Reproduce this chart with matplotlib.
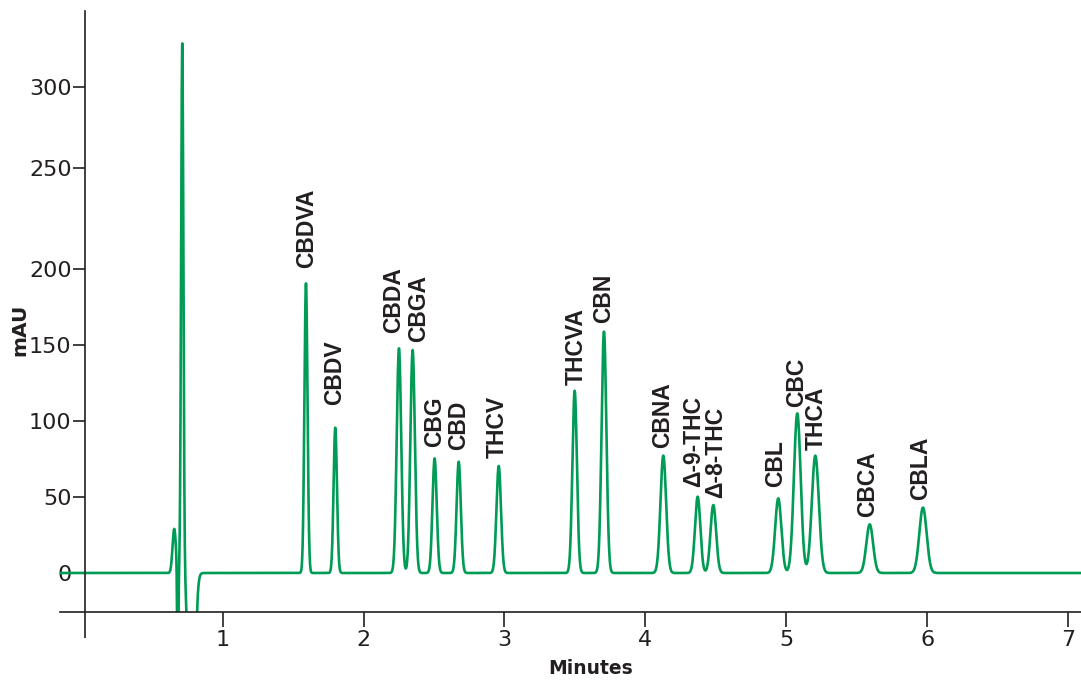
import numpy as np
import matplotlib
matplotlib.use("Agg")
import matplotlib.pyplot as plt
import matplotlib.transforms as mtransforms

# ---------------- data ----------------
compounds = ["CBDVA", "CBDV", "CBDA", "CBGA", "CBG", "CBD", "THCV", "THCVA", "CBN",
             "CBNA", "Δ-9-THC", "Δ-8-THC", "CBL", "CBC", "THCA", "CBCA", "CBLA"]
retention_min = [1.591, 1.799, 2.251, 2.348, 2.504, 2.675, 2.959, 3.498, 3.706,
                 4.127, 4.371, 4.482, 4.943, 5.078, 5.206, 5.592, 5.970]
height_mau = [190.6, 95.6, 147.8, 146.7, 75.4, 73.2, 70.4, 119.9, 158.8,
              77.2, 50.2, 44.7, 49.1, 105.0, 77.2, 32.0, 43.0]
sigma_min = [0.011, 0.012, 0.016, 0.016, 0.015, 0.015, 0.016, 0.016, 0.017,
             0.020, 0.019, 0.020, 0.022, 0.024, 0.025, 0.024, 0.026]

# solvent-front disturbance (injection peak and negative dips)
front_time = [0.656, 0.681, 0.713, 0.780, 0.812]
front_height = [29.0, -80.0, 349.0, -150.0, -8.0]
front_sigma = [0.012, 0.004, 0.008, 0.020, 0.004]

ytick_labels = ["0", "50", "100", "150", "200", "250", "300"]
xtick_labels = ["1", "2", "3", "4", "5", "6", "7"]

# ---------------- layout ----------------
ytick_pos = [0, 50, 100, 150, 200, 266.2, 319.9]
xtick_pos = [1, 2, 3, 4, 5, 6, 7]
label_t = [1.598, 1.797, 2.211, 2.388, 2.507, 2.672, 2.950, 3.512, 3.701,
           4.121, 4.343, 4.500, 4.925, 5.075, 5.212, 5.576, 5.955]
label_y = [200.7, 110.5, 157.7, 152.2, 83.1, 80.9, 75.4, 123.7, 164.3,
           82.0, 56.8, 49.1, 56.8, 109.4, 80.9, 37.0, 48.0]

GREEN = "#009B55"
INK = "#231F20"

t = np.linspace(-0.16, 7.1, 8000)
signal = np.zeros_like(t)
for tr, h, s in zip(retention_min + front_time, height_mau + front_height,
                    sigma_min + front_sigma):
    signal += h * np.exp(-0.5 * ((t - tr) / s) ** 2)

fig = plt.figure(figsize=(10.81, 6.81), dpi=100)
ax = fig.add_axes([60 / 1081, 69 / 681, 1021 / 1081, (612 - 10.9) / 681])
ax.set_xlim(-0.1547, 7.0916)
ax.set_ylim(-25.66, 369.8)

ax.plot(t, signal, color=GREEN, lw=1.9, solid_joinstyle="round")

for name, tx, ty in zip(compounds, label_t, label_y):
    ax.text(tx, ty, name, rotation=90, ha="center", va="bottom",
            fontsize=16.5, fontweight="bold", color=INK,
            family=["Liberation Sans", "DejaVu Sans"])

# axes styling
for side in ("top", "right"):
    ax.spines[side].set_visible(False)
y_axis_t = 0.026
ax.spines["left"].set_position(("data", y_axis_t))
for side in ("left", "bottom"):
    ax.spines[side].set_linewidth(1.2)
    ax.spines[side].set_color(INK)
trans = mtransforms.blended_transform_factory(ax.transData, ax.transAxes)
ax.plot([y_axis_t, y_axis_t], [-0.043, 0], transform=trans, color=INK,
        lw=1.2, clip_on=False, solid_capstyle="butt")

ax.set_yticks(ytick_pos)
ax.set_yticklabels(ytick_labels)
ax.set_xticks(xtick_pos)
ax.set_xticklabels(xtick_labels)
ax.tick_params(axis="y", direction="out", length=9, width=1.2, color=INK,
               labelsize=16, labelcolor=INK, pad=1)
ax.tick_params(axis="x", direction="out", length=11, width=1.2, color=INK,
               labelsize=16, labelcolor=INK, pad=2)
for lab in ax.get_xticklabels() + ax.get_yticklabels():
    lab.set_family("DejaVu Sans")

fig.text(19.5 / 1081, 1 - 330 / 681, "mAU", rotation=90, ha="center", va="center",
         fontsize=14.5, fontweight="bold", color=INK, family="DejaVu Sans")
fig.text(591 / 1081, 1 - 668 / 681, "Minutes", ha="center", va="center",
         fontsize=13.5, fontweight="bold", color=INK, family="DejaVu Sans")

fig.savefig("out.png", dpi=100)
